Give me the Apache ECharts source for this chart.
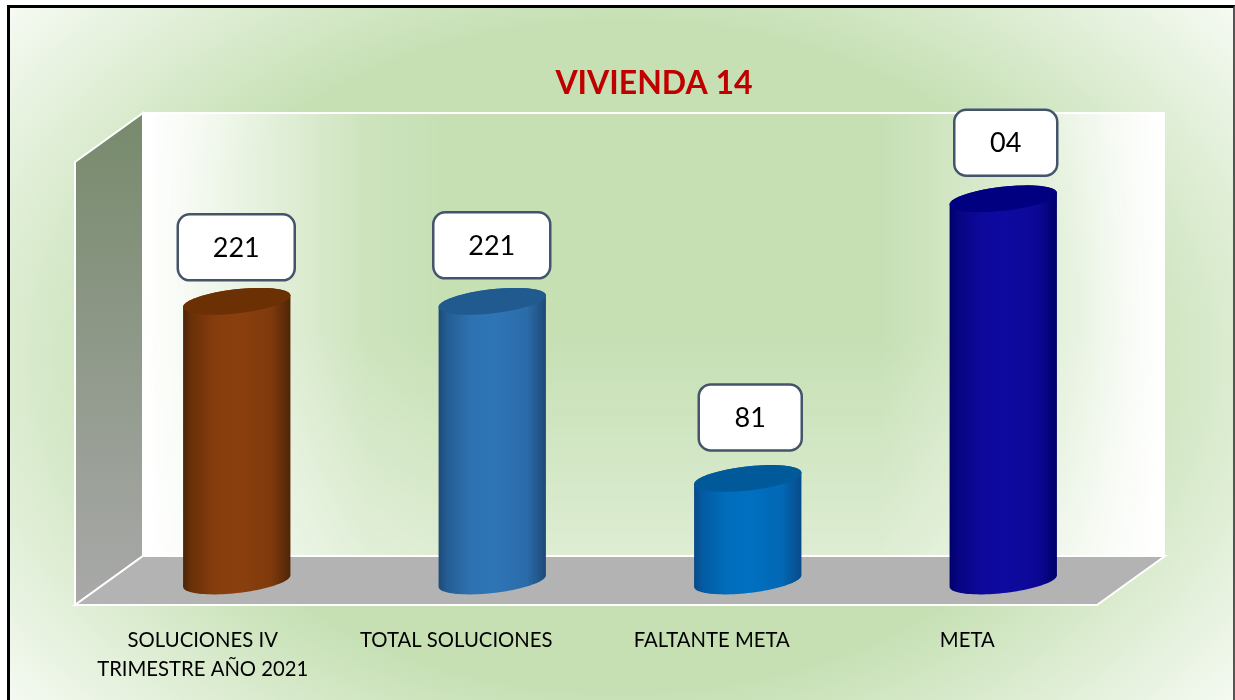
<!DOCTYPE html>
<html><head><meta charset="utf-8">
<style>
html,body{margin:0;padding:0;width:1235px;height:700px;overflow:hidden;background:#fff}
#c{position:absolute;left:7px;top:5px;width:1228px;height:700px;box-sizing:border-box;
  border-top:3px solid #000;border-left:3px solid #000;border-right:2px solid #555;
  background:radial-gradient(ellipse 760px 540px at 50% 50%,#c6e0b4 0%,#c6e0b4 62%,#fbfdfa 108%);}
#main{position:absolute;left:0;top:0;width:1235px;height:700px}
</style>
<script src="https://cdn.jsdelivr.net/npm/echarts@6/dist/echarts.min.js"></script>
</head><body>
<div id="c"></div>
<div id="main"></div>
<script>
const categories = ['SOLUCIONES IV\nTRIMESTRE AÑO 2021','TOTAL SOLUCIONES','FALTANTE META','META'];
const values = [221,221,81,302];
const shownLabels = ['221','221','81','04'];
const sideColors = ['#4f2505','#1d4a78','#084a88','#00006a'];
const midColors = ['#8b3f0e','#2e75b6','#0070c0','#0f0aa0'];
const capColors = ['#6b3004','#215a8e','#005a9a','#000080'];
const labelGaps = [54,56,61,56];

const FONT = 'Lato, "Open Sans", sans-serif';
const DX = 34, DY = -24;           // half the depth of the 3D floor
const A = 54, B = 12, PHI = -6.5 * Math.PI / 180;
const T0 = Math.atan(-B * Math.sin(PHI) / (A * Math.cos(PHI)));

function ell(cx, cy, t) {
  const x = A * Math.cos(t), y = B * Math.sin(t);
  return [cx + x * Math.cos(PHI) - y * Math.sin(PHI), cy + x * Math.sin(PHI) + y * Math.cos(PHI)];
}
function arc(cx, cy, from, to) {
  const pts = [];
  for (let i = 0; i <= 48; i++) pts.push(ell(cx, cy, from + (to - from) * i / 48));
  return pts;
}
function grad(stops) {
  return {type:'linear',x:0,y:0,x2:1,y2:0,colorStops:stops};
}
function white(a) { return 'rgba(255,255,255,' + a + ')'; }
function renderCyl(params, api) {
  const i = params.dataIndex;
  const top = api.coord([api.value(0), api.value(1)]);
  const base = api.coord([api.value(0), 0]);
  const cx = top[0] + DX, ty = top[1] + DY, by = base[1] + DY;
  const body = arc(cx, by, T0, T0 + Math.PI).concat(arc(cx, ty, T0 + Math.PI, T0 + 2 * Math.PI));
  const cap = arc(cx, ty, 0, 2 * Math.PI);
  const txt = shownLabels[i];
  const wide = txt.length > 2;
  const bw = wide ? 117 : 103, bh = 66;
  const bx = cx - bw / 2 + (wide ? -0.5 : 2.5), byy = ty - labelGaps[i] - bh / 2;
  return {type:'group',children:[
    {type:'polygon',shape:{points:body},style:{fill:grad([
      {offset:0,color:sideColors[i]},
      {offset:0.08,color:echarts.color.lerp(0.45,[sideColors[i],midColors[i]])},
      {offset:0.3,color:echarts.color.lerp(0.92,[sideColors[i],midColors[i]])},
      {offset:0.52,color:midColors[i]},
      {offset:0.82,color:echarts.color.lerp(0.8,[sideColors[i],midColors[i]])},
      {offset:1,color:sideColors[i]}])}},
    {type:'polygon',shape:{points:cap},style:{fill:capColors[i]}},
    {type:'rect',shape:{x:bx,y:byy,width:bw,height:bh,r:12},style:{fill:'#fff',stroke:'#44546a',lineWidth:2.5}},
    {type:'text',style:{x:bx+bw/2,y:byy+bh/2+1,text:txt,fill:'#000',font:'27px '+FONT,align:'center',verticalAlign:'middle'}}
  ]};
}

const chart = echarts.init(document.getElementById('main'),null,{renderer:'canvas'});
chart.setOption({
  animation:false,
  backgroundColor:'transparent',
  title:{text:'VIVIENDA 14',left:649,top:63,textAlign:'center',textStyle:{color:'#c00000',fontFamily:FONT,fontWeight:'bold',fontSize:32}},
  grid:{left:75,right:138,top:162,bottom:95},
  xAxis:{type:'category',data:categories.map((c,i)=>({value:c,textStyle:{padding:i===0?[0,0,0,0]:[0,4,0,0]}})),
    axisLine:{show:false},axisTick:{show:false},
    axisLabel:{color:'#000',fontFamily:FONT,fontSize:20.3,lineHeight:29,margin:21,interval:0,padding:[0,4,0,0]}},
  yAxis:{type:'value',min:0,max:350,show:false,splitLine:{show:false}},
  graphic:[
    {type:'polygon',silent:true,z:-11,shape:{points:[[143,113],[1165,113],[1165,556],[143,556]]},
      style:{fill:{type:'linear',x:0,y:0,x2:0,y2:1,colorStops:[
        {offset:0,color:white(0)},{offset:0.5,color:white(0)},{offset:1,color:white(0.42)}]}}},
    {type:'polygon',silent:true,z:-10,shape:{points:[[143,113],[1165,113],[1165,556],[143,556]]},
      style:{fill:{type:'linear',x:0,y:0,x2:1,y2:0,colorStops:[
        {offset:0,color:white(1)},{offset:0.04,color:white(0.85)},{offset:0.14,color:white(0.45)},
        {offset:0.22,color:white(0.12)},{offset:0.3,color:white(0)},
        {offset:0.72,color:white(0)},{offset:0.9,color:white(0.55)},{offset:0.98,color:white(0.92)},{offset:1,color:white(1)}]}}},
    {type:'polyline',silent:true,z:-8,shape:{points:[[143,113],[1165,113]]},style:{stroke:'#fff',lineWidth:2,fill:'none'}},
    {type:'polygon',silent:true,z:-8,shape:{points:[[75,162],[143,113],[143,556],[75,605]]},
      style:{stroke:'#fff',lineWidth:2,fill:{type:'linear',x:0,y:0,x2:0,y2:1,colorStops:[{offset:0,color:'#778a6c'},{offset:1,color:'#a9a9a9'}]}}},
    {type:'polygon',silent:true,z:-7,shape:{points:[[75,605],[143,556],[1165,556],[1097,605]]},
      style:{stroke:'#fff',lineWidth:2,fill:'#b3b3b3'}}
  ],
  series:[{type:'custom',renderItem:renderCyl,data:categories.map((c,i)=>[i,values[i]]),encode:{x:0,y:1},clip:false}]
});
</script>
</body></html>
